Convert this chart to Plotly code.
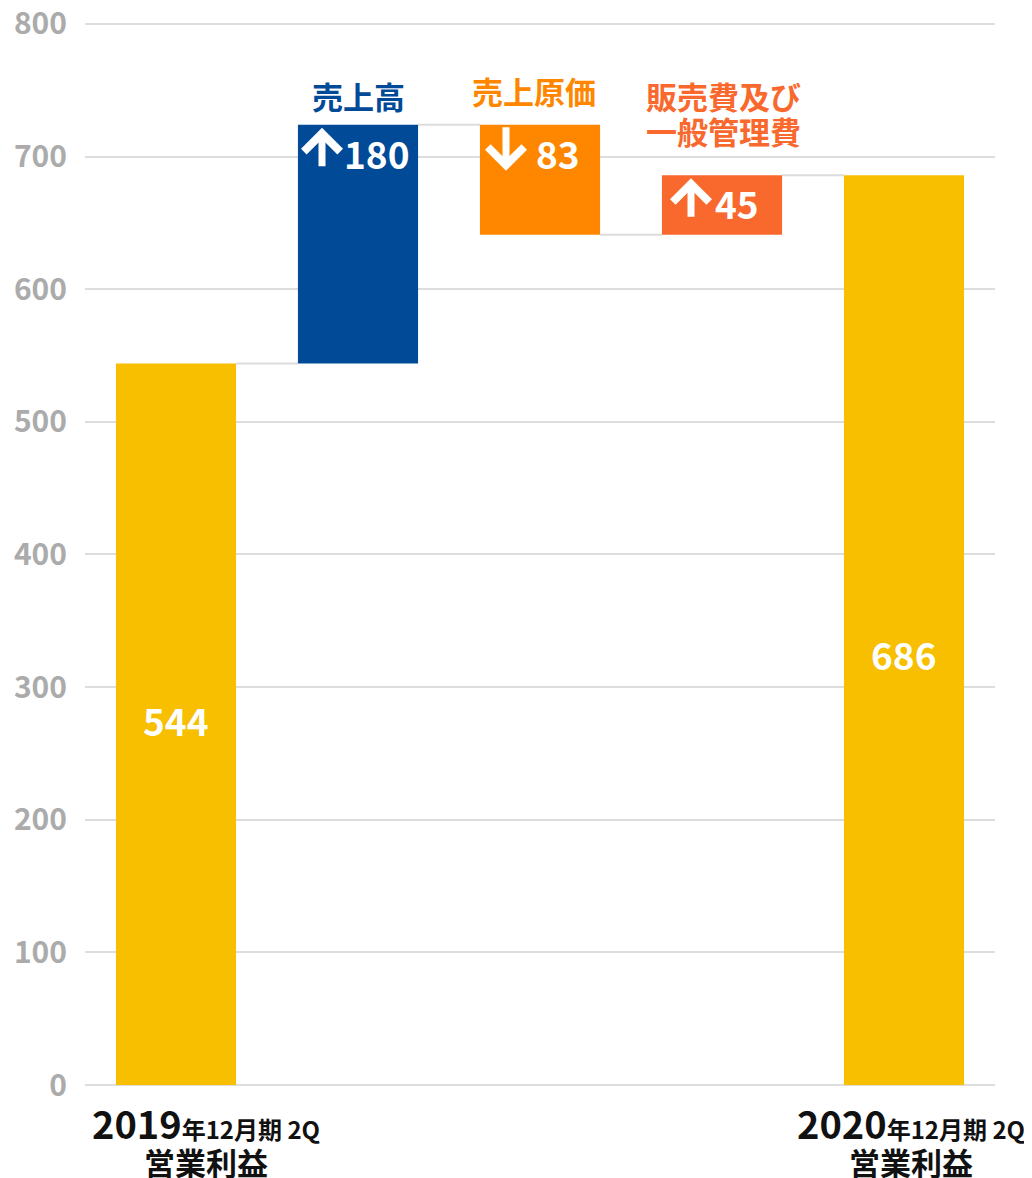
import plotly.graph_objects as go

# ---- data ----
categories = ["2019年12月期 2Q 営業利益", "売上高", "売上原価", "販売費及び一般管理費", "2020年12月期 2Q 営業利益"]
start_value = 544
end_value = 686
delta_values = [180, -83, 45]
delta_names = ["売上高", "売上原価", "販売費及び<br>一般管理費"]
delta_arrow_dirs = ["up", "down", "up"]
total_labels_top = ["2019", "2020"]
total_labels_suffix = ["年12月期 2Q", "年12月期 2Q"]
total_labels_bottom = ["営業利益", "営業利益"]
y_ticks = [0, 100, 200, 300, 400, 500, 600, 700, 800]

# ---- styles ----
FONT = "Noto Sans CJK JP"
GOLD = "#F8BE00"
delta_colors = ["#004A98", "#FF8700", "#F9682D"]
BAR_W = 0.66
label_lift = [5, 10, 20]
label_xshift = [0, -6, 1]
arrow_xshift = [-36, -34, -31]
num_xshift = [19, 18, 15]
total_text_yshift = [4, -24]
total_label_xshift = [30, 7]

# running levels
levels = [start_value]
for d in delta_values:
    levels.append(levels[-1] + d)

delta_x = [1, 2, 3]
delta_base = [min(levels[i], levels[i + 1]) for i in range(len(delta_values))]
delta_len = [abs(d) for d in delta_values]
delta_top = [b + l for b, l in zip(delta_base, delta_len)]
total_x = [0, 4]
total_vals = [start_value, end_value]

fig = go.Figure()

fig.add_trace(go.Bar(
    x=total_x, y=total_vals, width=BAR_W,
    marker=dict(color=GOLD, line=dict(width=0)),
    hoverinfo="skip",
))

fig.add_trace(go.Bar(
    x=delta_x, y=delta_len, base=delta_base, width=BAR_W,
    marker=dict(color=delta_colors, line=dict(width=0)),
    hoverinfo="skip",
))

# connectors
shapes = []
for i in range(4):
    lvl = levels[i] if i < len(levels) else end_value
    shapes.append(dict(type="line", xref="x", yref="y",
                       x0=i + BAR_W / 2, x1=i + 1 - BAR_W / 2, y0=lvl, y1=lvl,
                       line=dict(color="#DCDCDC", width=2), layer="below"))

annotations = []

# total values inside gold bars
for xi, v, ys in zip(total_x, total_vals, total_text_yshift):
    annotations.append(dict(
        x=xi, y=v / 2, xref="x", yref="y", text=str(v), showarrow=False,
        yshift=ys, font=dict(family=FONT, size=37, color="white", weight="bold"),
    ))

for i, name in enumerate(delta_names):
    top = delta_top[i]
    # category name above bar
    lines = name.split("<br>")
    n = len(lines)
    for j, line in enumerate(lines):
        annotations.append(dict(
            x=delta_x[i], y=top, xref="x", yref="y", yanchor="bottom",
            text=line, showarrow=False, xshift=label_xshift[i],
            yshift=label_lift[i] + (n - 1 - j) * 35,
            font=dict(family=FONT, size=31, color=delta_colors[i], weight="bold"),
        ))
    # value inside bar
    annotations.append(dict(
        x=delta_x[i], y=top, xref="x", yref="y", yanchor="middle",
        text=str(abs(delta_values[i])), showarrow=False,
        xshift=num_xshift[i], yshift=-28,
        font=dict(family=FONT, size=37, color="white", weight="bold"),
    ))
    # arrow inside bar
    if delta_arrow_dirs[i] == "up":
        tip_shift, tail = -3, 40
    else:
        tip_shift, tail = -46, -45
    annotations.append(dict(
        x=delta_x[i], y=top, xref="x", yref="y", text="",
        showarrow=True, arrowhead=4, arrowsize=1.0, arrowwidth=7,
        arrowcolor="white", ax=0, ay=tail, standoff=0,
        xshift=arrow_xshift[i], yshift=tip_shift,
    ))

for xi, top, suf, bot, xs in zip(total_x, total_labels_top, total_labels_suffix,
                                 total_labels_bottom, total_label_xshift):
    annotations.append(dict(
        x=xi, y=0, xref="x", yref="paper", yanchor="top", xanchor="center",
        xshift=xs, yshift=-8, showarrow=False,
        text=(f"<span style='font-size:38px'>{top}</span>"
              f"<span style='font-size:24px'>{suf}</span><br>"
              f"<span style='font-size:31px'>{bot}</span>"),
        font=dict(family=FONT, size=28, color="#111111", weight="bold"),
    ))

fig.update_layout(
    width=1024, height=1170,
    margin=dict(l=77, r=37, t=14, b=93, autoexpand=False),
    paper_bgcolor="white", plot_bgcolor="white",
    barmode="overlay", showlegend=False,
    shapes=shapes, annotations=annotations,
    xaxis=dict(range=[-0.5, 4.5], showticklabels=False, showgrid=False,
               zeroline=False, showline=False, fixedrange=True, automargin=False),
    yaxis=dict(range=[0, 801.5], tickvals=y_ticks, showgrid=True,
               gridcolor="#DDDDDD", gridwidth=2, zeroline=True,
               zerolinecolor="#DDDDDD", zerolinewidth=2,
               tickfont=dict(family=FONT, size=30, color="#ABABAB", weight="bold"),
               ticklabelstandoff=17, ticklabeloverflow="allow",
               fixedrange=True, automargin=False),
)

fig.write_html("out.html")
